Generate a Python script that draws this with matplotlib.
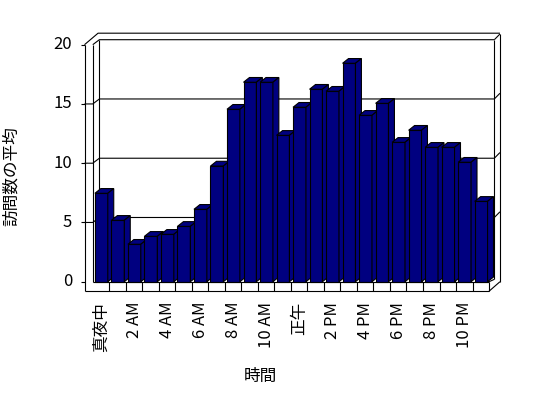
import matplotlib
matplotlib.use('Agg')
from matplotlib import pyplot as plt
from matplotlib.patches import Polygon

plt.rcParams['font.family'] = ['Noto Sans CJK JP', 'DejaVu Sans']

# average visits per hour
values = [7.46, 5.18, 3.16, 3.83, 4.0, 4.67, 6.11, 9.76, 14.55, 16.83, 16.83, 12.35,
          14.72, 16.24, 16.07, 18.43, 14.04, 15.05, 11.76, 12.78, 11.34, 11.34, 10.08, 6.78]
tick_labels = ['真夜中', '2 AM', '4 AM', '6 AM', '8 AM', '10 AM',
               '正午', '2 PM', '4 PM', '6 PM', '8 PM', '10 PM']
y_ticks = [0, 5, 10, 15, 20]
x_title = '時間'
y_title = '訪問数の平均'

BAR_COLOR = '#000080'
LW = 0.8
n = len(values)
YMAX = 20

# 3d-ish frame geometry in data units (x = category, y = value)
WALL = -0.5          # front edge of the left wall
BDX, BDY = 0.4, 0.42  # shift to the back wall
OUT = 0.55           # wall thickness at the top
FLOOR = -0.8         # bottom of floor slab
RIN, ROUT = n + 0.32, n + 0.66

fig = plt.figure(figsize=(5.48, 3.98), dpi=100)
ax = fig.add_axes([0, 0, 1, 1])
ax.set_xlim(-5.618, 27.57)
ax.set_ylim(-9.81, 23.77)
ax.axis('off')


def line(xs, ys, z=1):
    ax.plot(xs, ys, color='black', lw=LW, solid_capstyle='butt', zorder=z)


# walls
line([WALL, WALL], [FLOOR, YMAX])
line([0, 0], [0, YMAX])
line([WALL, 0.32, ROUT], [YMAX, YMAX + BDY + OUT, YMAX + BDY + OUT])
line([0, BDX, RIN], [YMAX, YMAX + BDY, YMAX + BDY])
line([BDX, BDX], [YMAX + BDY, BDY])
line([RIN, ROUT], [YMAX + BDY, YMAX + BDY + 0.48])
line([RIN, RIN], [YMAX + BDY, 0.2])
line([ROUT, ROUT], [YMAX + BDY + 0.48, 0])

# gridlines wrapping round the walls, plus front ticks
for v in y_ticks:
    if 0 < v < YMAX:
        line([WALL, 0, BDX, RIN, ROUT], [v, v, v + BDY, v + BDY, v + BDY + 0.48])
    line([WALL - 0.22, WALL], [v, v])
    ax.text(-1.257, v, str(v), ha='right', va='center', fontsize=12)

# bars
off, w, ddx, ddy = 0.13, 0.78, 0.36, 0.40
for i, v in enumerate(values):
    x0 = i + off
    x1 = x0 + w
    faces = [
        [(x0, 0), (x1, 0), (x1, v), (x0, v)],
        [(x0, v), (x1, v), (x1 + ddx, v + ddy), (x0 + ddx, v + ddy)],
        [(x1, 0), (x1 + ddx, ddy), (x1 + ddx, v + ddy), (x1, v)],
    ]
    for f in faces:
        ax.add_patch(Polygon(f, closed=True, facecolor=BAR_COLOR,
                             edgecolor='black', lw=LW, zorder=2 + i * 0.01))

# floor front face
line([WALL, n], [FLOOR, FLOOR], z=3)
line([0, n], [0, 0], z=3)
line([n, n], [FLOOR, 0], z=3)
line([n, ROUT], [FLOOR, 0], z=3)
line([n, RIN], [0, 0.2], z=3)
for k in range(1, n):
    line([k, k], [FLOOR, 0], z=3)

# category labels every other hour
for j, lab in enumerate(tick_labels):
    ax.text(2 * j + 0.5, -1.71, lab, rotation=90, ha='center', va='top', fontsize=12)

ax.text(10.13, -7.96, x_title, ha='center', va='center', fontsize=12)
ax.text(-4.95, 8.9, y_title, rotation=90, ha='center', va='center', fontsize=12)

fig.savefig('out.png', dpi=100)
